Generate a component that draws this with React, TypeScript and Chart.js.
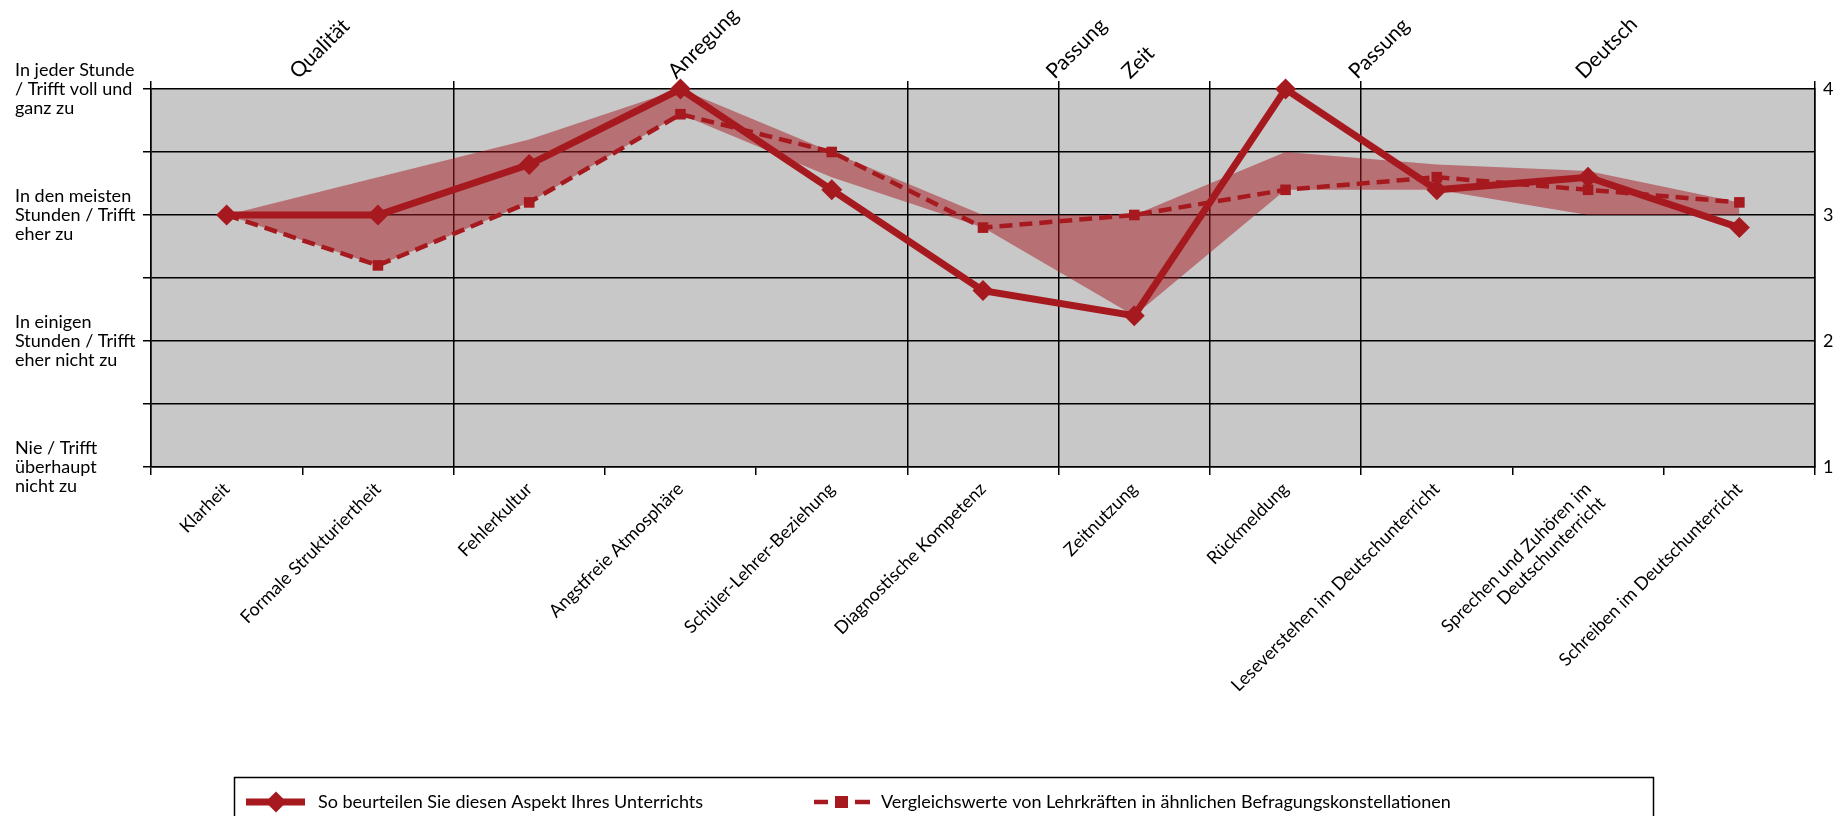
import React, { useEffect, useRef } from "react";
import { Chart, registerables } from "chart.js";

Chart.register(...registerables);

const categories: (string | string[])[] = [
  "Klarheit",
  "Formale Strukturiertheit",
  "Fehlerkultur",
  "Angstfreie Atmosphäre",
  "Schüler-Lehrer-Beziehung",
  "Diagnostische Kompetenz",
  "Zeitnutzung",
  "Rückmeldung",
  "Leseverstehen im Deutschunterricht",
  ["Sprechen und Zuhören im", "Deutschunterricht"],
  "Schreiben im Deutschunterricht",
];

const mainValues = [3.0, 3.0, 3.4, 4.0, 3.2, 2.4, 2.2, 4.0, 3.2, 3.3, 2.9];
const comparisonValues = [3.0, 2.6, 3.1, 3.8, 3.5, 2.9, 3.0, 3.2, 3.3, 3.2, 3.1];
const rangeUpper = [3.0, 3.3, 3.6, 4.0, 3.5, 3.0, 3.0, 3.5, 3.4, 3.35, 3.1];
const rangeLower = [3.0, 2.6, 3.1, 3.8, 3.3, 2.9, 2.2, 3.2, 3.2, 3.0, 3.0];

const seriesLabels = [
  "So beurteilen Sie diesen Aspekt Ihres Unterrichts",
  "Vergleichswerte von Lehrkräften in ähnlichen Befragungskonstellationen",
];

const groupNames = ["Qualität", "Anregung", "Passung", "Zeit", "Passung", "Deutsch"];
const groupSizes = [2, 3, 1, 1, 1, 3];

const yLevelValues = [4, 3, 2, 1];
const yLevelLabels = [
  ["In jeder Stunde", "/ Trifft voll und", "ganz zu"],
  ["In den meisten", "Stunden / Trifft", "eher zu"],
  ["In einigen", "Stunden / Trifft", "eher nicht zu"],
  ["Nie / Trifft", "überhaupt", "nicht zu"],
];
const rightTickValues = [1, 2, 3, 4];

const RED = "#a61a1f";
const BAND = "rgba(166, 26, 31, 0.5)";
const PLOT_BG = "#c8c8c8";
const FONT = "Lato, 'Noto Sans', sans-serif";

// group label anchor shift (layout only), in category units
const groupLabelShift = [0.06, 0.06, 0.56, 0.06, 0.56, 0.06];

function buildGroupTicks() {
  const boundaries: number[] = [-0.5];
  const labels: { v: number; t: string }[] = [];
  let start = 0;
  groupSizes.forEach((n, i) => {
    const center = start + (n - 1) / 2 + groupLabelShift[i];
    labels.push({ v: center, t: groupNames[i] });
    start += n;
    boundaries.push(start - 0.5);
  });
  const all = Array.from(new Set([...boundaries, ...labels.map((l) => l.v)])).sort((a, b) => a - b);
  return { boundaries, labels, all };
}

const near = (a: number, b: number) => Math.abs(a - b) < 1e-6;

const plotBackground = {
  id: "plotBackground",
  beforeDraw(chart: any) {
    const { ctx, chartArea } = chart;
    ctx.save();
    ctx.fillStyle = PLOT_BG;
    ctx.fillRect(chartArea.left, chartArea.top, chartArea.right - chartArea.left, chartArea.bottom - chartArea.top);
    ctx.restore();
  },
};

const boxLegend = {
  id: "boxLegend",
  afterDraw(chart: any) {
    const { ctx } = chart;
    const H = chart.height;
    const top = H - 39;
    const cy = H - 14;
    ctx.save();
    ctx.strokeStyle = "#000";
    ctx.lineWidth = 1.5;
    ctx.strokeRect(234.5, top + 0.5, 1653 - 234, 80);

    // item 1: thick line with diamond
    ctx.strokeStyle = RED;
    ctx.fillStyle = RED;
    ctx.lineWidth = 7;
    ctx.beginPath();
    ctx.moveTo(246, cy);
    ctx.lineTo(305, cy);
    ctx.stroke();
    const r = 10.5;
    ctx.beginPath();
    ctx.moveTo(276, cy - r);
    ctx.lineTo(276 + r, cy);
    ctx.lineTo(276, cy + r);
    ctx.lineTo(276 - r, cy);
    ctx.closePath();
    ctx.fill();

    // item 2: dashed with square
    ctx.lineWidth = 4.5;
    ctx.beginPath();
    ctx.moveTo(814, cy);
    ctx.lineTo(828, cy);
    ctx.moveTo(855, cy);
    ctx.lineTo(870, cy);
    ctx.stroke();
    ctx.fillRect(835, cy - 6, 13, 12);

    ctx.fillStyle = "#000";
    ctx.font = `18px ${FONT}`;
    ctx.textBaseline = "middle";
    ctx.textAlign = "left";
    ctx.fillText(chart.data.datasets[0].label, 318, cy);
    ctx.fillText(chart.data.datasets[1].label, 881, cy);
    ctx.restore();
  },
};

export default function App() {
  const canvasRef = useRef<HTMLCanvasElement | null>(null);

  useEffect(() => {
    document.body.style.margin = "0";
    const canvas = canvasRef.current;
    if (!canvas) return;
    const groups = buildGroupTicks();

    const chart = new Chart(canvas, {
      type: "line",
      data: {
        labels: categories as any,
        datasets: [
          {
            label: seriesLabels[0],
            data: mainValues,
            borderColor: RED,
            backgroundColor: RED,
            borderWidth: 7,
            pointStyle: "rectRot",
            pointRadius: 10.5,
            pointBackgroundColor: RED,
            pointBorderWidth: 0,
            tension: 0,
            fill: false,
            clip: false as any,
            order: 1,
          },
          {
            label: seriesLabels[1],
            data: comparisonValues,
            borderColor: RED,
            backgroundColor: RED,
            borderWidth: 4.5,
            borderDash: [13, 7],
            pointStyle: "rect",
            pointRadius: 7.5,
            pointBackgroundColor: RED,
            pointBorderWidth: 0,
            tension: 0,
            fill: false,
            clip: false as any,
            order: 2,
          },
          {
            label: "Bereich unten",
            data: rangeLower,
            borderWidth: 0,
            borderColor: "rgba(0,0,0,0)",
            pointRadius: 0,
            fill: false,
            order: 3,
          },
          {
            label: "Bereich oben",
            data: rangeUpper,
            borderWidth: 0,
            borderColor: "rgba(0,0,0,0)",
            backgroundColor: BAND,
            pointRadius: 0,
            fill: "-1",
            order: 4,
          },
        ],
      },
      options: {
        responsive: true,
        maintainAspectRatio: false,
        animation: false,
        layout: { padding: { left: 15, right: 0, top: 0, bottom: 0 } },
        font: { family: FONT },
        plugins: {
          legend: { display: false },
          tooltip: { enabled: false },
        },
        scales: {
          x: {
            type: "category",
            position: "bottom",
            offset: true,
            grid: {
              offset: true,
              drawOnChartArea: false,
              drawTicks: true,
              tickLength: 8,
              color: "#000",
              lineWidth: 1.5,
            },
            border: { display: true, color: "#000", width: 1.5 },
            ticks: {
              autoSkip: false,
              maxRotation: 45,
              minRotation: 45,
              padding: 4,
              color: "#000",
              font: { family: FONT, size: 18, lineHeight: 1.1 },
            },
            afterFit: (s: any) => {
              s.height = 349;
            },
          },
          x2: {
            type: "linear",
            position: "top",
            min: -0.5,
            max: 10.5,
            afterBuildTicks: (s: any) => {
              s.ticks = groups.all.map((v) => ({ value: v }));
            },
            ticks: {
              autoSkip: false,
              maxRotation: 45,
              minRotation: 45,
              padding: -3,
              color: "#000",
              font: { family: FONT, size: 21 },
              callback: (v: any) => {
                const l = groups.labels.find((g) => near(g.v, Number(v)));
                return l ? l.t : "";
              },
            },
            grid: {
              drawOnChartArea: true,
              drawTicks: true,
              tickLength: 8,
              lineWidth: 1.5,
              color: (c: any) =>
                c.tick && groups.boundaries.some((b) => near(b, c.tick.value)) ? "#000" : "rgba(0,0,0,0)",
            },
            border: { display: false },
            afterFit: (s: any) => {
              s.height = 89;
            },
          },
          y: {
            type: "linear",
            position: "left",
            min: 1,
            max: 4,
            ticks: {
              stepSize: 0.5,
              crossAlign: "far",
              padding: 6,
              color: "#000",
              font: { family: FONT, size: 18, lineHeight: 1.07 },
              callback: (v: any) => {
                const i = yLevelValues.findIndex((x) => near(x, Number(v)));
                return i >= 0 ? yLevelLabels[i] : "";
              },
            },
            grid: {
              drawOnChartArea: true,
              drawTicks: true,
              tickLength: 8,
              color: "#000",
              lineWidth: 1.5,
            },
            border: { display: true, color: "#000", width: 1.5 },
            afterFit: (s: any) => {
              s.width = 136;
            },
          },
          y2: {
            type: "linear",
            position: "right",
            min: 1,
            max: 4,
            afterBuildTicks: (s: any) => {
              s.ticks = rightTickValues.map((v) => ({ value: v }));
            },
            ticks: {
              padding: 8,
              color: "#000",
              font: { family: FONT, size: 18 },
            },
            grid: { drawOnChartArea: false, drawTicks: false },
            border: { display: true, color: "#000", width: 1.5 },
            afterFit: (s: any) => {
              s.width = 21;
            },
          },
        },
      } as any,
      plugins: [plotBackground, boxLegend],
    });

    return () => chart.destroy();
  }, []);

  return (
    <div style={{ width: "1836px", height: "816px", position: "relative" }}>
      <canvas ref={canvasRef} />
    </div>
  );
}
